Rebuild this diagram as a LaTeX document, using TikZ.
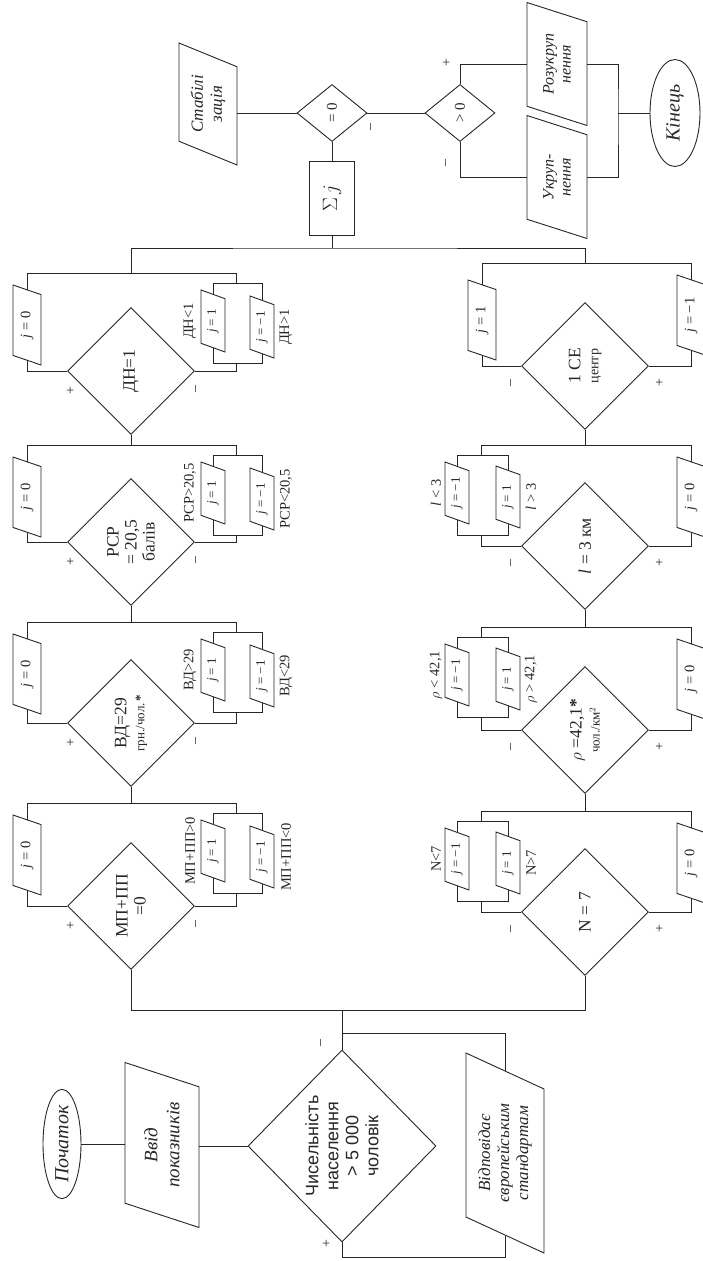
\documentclass[tikz,border=0pt]{standalone}
\usepackage{fontspec}
\setmainfont{Liberation Serif}
\setsansfont{Liberation Sans}
\usetikzlibrary{shapes.geometric}
\tikzset{
  shp/.style={
    draw,
    rotate = 90,
    inner sep = 1pt,
    align = center
  },
  term/.style={
    shp,
    ellipse,
    inner sep = 0pt,
    font = \itshape\fontsize{20}{22}\selectfont
  },
  io/.style={
    shp,
    trapezium,
    trapezium left angle = 57,
    trapezium right angle = 123,
    trapezium stretches body,
    fill = white
  },
  bigio/.style={
    io,
    inner xsep = -14pt,
    font = \itshape\fontsize{17}{19}\selectfont
  },
  jzero/.style={
    io,
    minimum width = 80pt,
    minimum height = 28pt,
    font = \fontsize{14.5}{15}\selectfont
  },
  jone/.style={
    io,
    minimum width = 62pt,
    minimum height = 24pt,
    inner xsep = -7pt,
    font = \fontsize{13}{14}\selectfont
  },
  cnd/.style={
    shp,
    diamond,
    inner sep = 0pt,
    minimum width = 127pt,
    minimum height = 127pt,
    font = \fontsize{17.5}{18}\selectfont
  },
  cndsmall/.style={
    cnd,
    minimum width = 57pt,
    minimum height = 70pt,
    font = \fontsize{15}{16}\selectfont
  },
  proc/.style={
    shp,
    rectangle,
    minimum width = 74pt,
    minimum height = 45pt,
    font = \fontsize{22}{24}\selectfont
  },
  lbl/.style={
    rotate = 90,
    inner sep = 0pt,
    font = \fontsize{14.5}{15}\selectfont
  },
  sgn/.style={
    rotate = 90,
    inner sep = 0pt,
    font = \fontsize{14}{14}\selectfont
  }
}
\begin{document}
\begin{tikzpicture}[x=1pt, y=-1pt, line width=0.9pt, color=black!85]
  \useasboundingbox (0,0) rectangle (702,1261);

  % start
  \node[term, minimum width=108pt, minimum height=38pt] (poch) at (62,1144) {Початок};
  \node[bigio, minimum width=165pt, minimum height=74pt, font=\itshape\fontsize{19}{22}\selectfont] (vvod) at (162,1145) {Ввід\\показників};
  \node[cnd, minimum width=192pt, minimum height=188pt, font=\sffamily\fontsize{18}{20}\selectfont] (num) at (342,1146) {Чисельність\\населення\\> 5 000\\чоловік};
  \node[bigio, minimum width=200pt, minimum height=78pt] (vid) at (505,1153) {Відповідає\\європейським\\стандартам};
  \node[sgn] (num-m) at (322,1043) {–};
  \node[sgn] (num-p) at (327,1244) {+};
  \coordinate (bus) at (342,1010);
  \coordinate (fork) at (342,1033);
  \coordinate (low) at (342,1257);
  \draw (poch.south) -- (poch.south -| vvod.north);
  \draw (vvod.south |- num.north) -- (num.north);
  \draw (num.east) -- (bus);
  \draw (fork) -| (vid.east);
  \draw (num.west) -- (low) -| (vid.west);

  % left column
  \foreach \nm/\yc/\yb/\txt/\la/\lb in {
    dn/371/273/{ДН=1}/{ДН<1}/{ДН>1},
    rsr/542/445/{РСР\\= 20,5\\балів}/{РСР>20,5}/{РСР<20,5},
    vd/723/622/{ВД=29\\{\fontsize{13}{14}\selectfont грн./чол.\,\textbf{*}}}/{ВД>29}/{ВД<29},
    mp/906/803/{МП+ПП\\=0}/{МП+ПП>0}/{МП+ПП<0}}
  {
    \node[cnd] (\nm) at (131,\yc) {\txt};
    \coordinate (\nm-top) at (131,\yb);
    \coordinate (\nm-a) at (27,\yb);
    \coordinate (\nm-b) at (236,\yb);
    \coordinate (\nm-c) at (236,\yb+10);
    \coordinate (\nm-d) at (236,\yb+90);
    \draw (\nm-a) -- (\nm-b) -- (\nm-c);
    \draw (\nm-a) |- (\nm.north);
    \draw (\nm-d) |- (\nm.south);
    \draw (213,\yb+10) rectangle (262,\yb+90);
    \node[jzero] (\nm-0) at (27,\yb+52) {\textit{j} = 0};
    \node[jone] (\nm-1) at (213,\yb+48) {\textit{j} = 1};
    \node[jone] (\nm-2) at (262,\yb+54) {\textit{j} = −1};
    \node[lbl] (\nm-l1) at (190,\yb+48) {\la};
    \node[lbl] (\nm-l2) at (286,\yb+54) {\lb};
    \node[sgn] (\nm-p) at (71,\yc+20) {+};
    \node[sgn] (\nm-m) at (197,\yc+18) {–};
  }

  % right column
  \node[cnd] (ce) at (585,366) {1 СЕ\\{\fontsize{14}{15}\selectfont центр}};
  \coordinate (ce-top) at (585,263);
  \coordinate (ce-a) at (482,263);
  \coordinate (ce-b) at (691,263);
  \draw (ce-a) -- (ce-b) |- (ce.south);
  \draw (ce-a) |- (ce.north);
  \node[jzero] (ce-1) at (482,320) {\textit{j} = 1};
  \node[jzero] (ce-2) at (691,315) {\textit{j} = −1};
  \node[sgn] (ce-m) at (512,383) {–};
  \node[sgn] (ce-p) at (660,383) {+};
  \foreach \nm/\yc/\yb/\txt/\la/\lb in {
    ll/546/445/{\textit{l} = 3 км}/{\textit{l} < 3}/{\textit{l} > 3},
    ro/730/627/{$\rho$ =42,1\textbf{*}\\{\fontsize{13}{14}\selectfont чол./км$^2$}}/{$\rho$ < 42,1}/{$\rho$ > 42,1},
    n/912/811/{N = 7}/{N<7}/{N>7}}
  {
    \node[cnd] (\nm) at (585,\yc) {\txt};
    \coordinate (\nm-top) at (585,\yb);
    \coordinate (\nm-a) at (481,\yb);
    \coordinate (\nm-b) at (691,\yb);
    \coordinate (\nm-c) at (481,\yb+10);
    \coordinate (\nm-d) at (481,\yb+90);
    \draw (\nm-c) -- (\nm-a) -- (\nm-b) |- (\nm.south);
    \draw (\nm-d) |- (\nm.north);
    \draw (457,\yb+10) rectangle (508,\yb+90);
    \node[jzero] (\nm-0) at (691,\yb+52) {\textit{j} = 0};
    \node[jone] (\nm-1) at (457,\yb+48) {\textit{j} = −1};
    \node[jone] (\nm-2) at (508,\yb+52) {\textit{j} = 1};
    \node[lbl] (\nm-l1) at (436,\yb+48) {\la};
    \node[lbl] (\nm-l2) at (531,\yb+52) {\lb};
    \node[sgn] (\nm-m) at (512,\yc+17) {–};
    \node[sgn] (\nm-p) at (660,\yc+17) {+};
  }

  % links between the blocks
  \coordinate (top) at (332,248);
  \draw (dn.west) -- (rsr-top);
  \draw (rsr.west) -- (vd-top);
  \draw (vd.west) -- (mp-top);
  \draw (ce.west) -- (ll-top);
  \draw (ll.west) -- (ro-top);
  \draw (ro.west) -- (n-top);
  \draw (mp.west) |- (bus) -| (n.west);
  \draw (dn-top) |- (top) -| (ce-top);

  % end
  \node[proc] (sum) at (332,198) {$\Sigma\, j$};
  \node[cndsmall] (eq) at (332,113) {= 0};
  \node[cndsmall] (gt) at (460,113) {> 0};
  \node[bigio, minimum width=122pt, minimum height=58pt] (stab) at (208,104) {Стабілі\\зація};
  \node[bigio, minimum width=123pt, minimum height=60pt, font=\itshape\fontsize{16}{17}\selectfont] (rozuk) at (557,64) {Розукруп\\нення};
  \node[bigio, minimum width=123pt, minimum height=60pt, font=\itshape\fontsize{16}{17}\selectfont] (ukr) at (557,177) {Укруп-\\нення};
  \node[term, minimum width=107pt, minimum height=50pt] (kin) at (675,113) {Кінець};
  \node[sgn] (eq-m) at (372,127) {–};
  \node[sgn] (gt-p) at (447,63) {+};
  \node[sgn] (gt-m) at (447,163) {–};
  \coordinate (join) at (618,113);
  \draw (top) -- (sum.west);
  \draw (sum.east) -- (eq.west);
  \draw (eq.north) -- (eq.north -| stab.south);
  \draw (eq.south) -- (gt.north);
  \draw (gt.east) |- (rozuk);
  \draw (gt.west) |- (ukr);
  \draw (rozuk) -| (join) |- (ukr);
  \draw (join) -- (kin);
\end{tikzpicture}
\end{document}
